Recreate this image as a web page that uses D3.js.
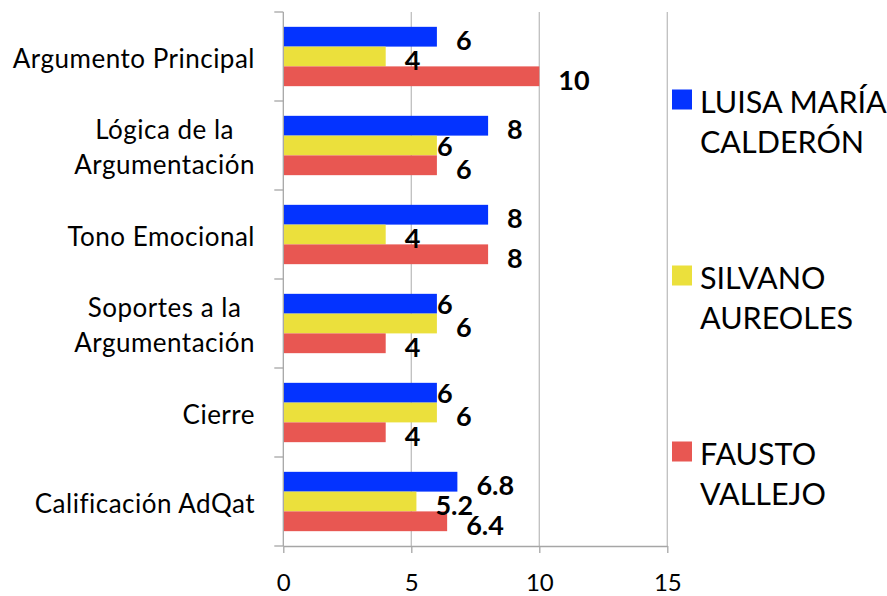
<!DOCTYPE html>
<html>
<head>
<meta charset="utf-8">
<script src="https://cdn.jsdelivr.net/npm/d3@7"></script>
<style>
  html, body { margin: 0; padding: 0; background: #ffffff; }
  svg { display: block; font-family: Lato, "Open Sans", sans-serif; }
</style>
</head>
<body>
<svg id="chart" width="887" height="596"></svg>
<script>
// ---- data ----
const categories = [
  "Argumento Principal",
  "Lógica de la\nArgumentación",
  "Tono Emocional",
  "Soportes a la\nArgumentación",
  "Cierre",
  "Calificación AdQat"
];
const seriesNames = ["LUISA MARÍA\nCALDERÓN", "SILVANO\nAUREOLES", "FAUSTO\nVALLEJO"];
const luisaValues   = [6, 8, 8, 6, 6, 6.8];
const silvanoValues = [4, 6, 4, 6, 6, 5.2];
const faustoValues  = [10, 6, 8, 4, 4, 6.4];
const xTicks = [0, 5, 10, 15];
const seriesColors = ["#0433ff", "#ebe03c", "#e85752"];

const seriesValues = [luisaValues, silvanoValues, faustoValues];

// ---- layout ----
const svg = d3.select("#chart");
const plotLeft = 283.3, plotRight = 667.3, plotTop = 12, plotBottom = 546;

const x = d3.scaleLinear().domain([0, 15]).range([plotLeft, plotRight]);
const y = d3.scaleBand().domain(categories).range([plotTop, plotBottom]).paddingInner(0).paddingOuter(0);
const ySub = d3.scaleBand().domain(d3.range(seriesNames.length)).range([0, y.bandwidth()]).paddingInner(0).paddingOuter(0.75);

// gridlines
svg.append("g").selectAll("line")
  .data(xTicks.filter(t => t > 0))
  .join("line")
  .attr("x1", d => x(d)).attr("x2", d => x(d))
  .attr("y1", plotTop).attr("y2", plotBottom)
  .attr("stroke", "#bfbfbf").attr("stroke-width", 1.3);

// bars
const groups = svg.append("g").selectAll("g")
  .data(categories)
  .join("g")
  .attr("transform", d => `translate(0,${y(d)})`);

groups.each(function(cat, ci) {
  const g = d3.select(this);
  seriesValues.forEach((vals, si) => {
    g.append("rect")
      .attr("x", x(0))
      .attr("y", ySub(si))
      .attr("width", x(vals[ci]) - x(0))
      .attr("height", ySub.bandwidth())
      .attr("fill", seriesColors[si]);
  });
});

// left axis (category boundaries)
const edges = categories.map(c => y(c)).concat([plotBottom]);
svg.append("line")
  .attr("x1", x(0)).attr("x2", x(0))
  .attr("y1", plotTop).attr("y2", plotBottom)
  .attr("stroke", "#a6a6a6").attr("stroke-width", 1.3);
svg.append("g").selectAll("line")
  .data(edges)
  .join("line")
  .attr("x1", x(0) - 9).attr("x2", x(0))
  .attr("y1", d => d).attr("y2", d => d)
  .attr("stroke", "#a6a6a6").attr("stroke-width", 1.3);

// bottom axis
const xAxis = d3.axisBottom(x).tickValues(xTicks).tickSize(7).tickSizeOuter(0).tickPadding(22);
const ax = svg.append("g").attr("transform", `translate(0,${plotBottom})`).call(xAxis);
ax.select(".domain").attr("stroke", "#a6a6a6").attr("stroke-width", 1.3);
ax.selectAll(".tick line").attr("stroke", "#a6a6a6").attr("stroke-width", 1.3);
ax.selectAll(".tick text")
  .attr("fill", "#000")
  .attr("y", 45)
  .attr("dy", null)
  .style("font-family", "Lato, 'Open Sans', sans-serif")
  .style("font-size", "24px");

// category labels
const catLineH = 35.7;
const catLabels = svg.append("g").selectAll("text")
  .data(categories)
  .join("text")
  .attr("font-size", 26)
  .attr("letter-spacing", 0.5)
  .attr("fill", "#000")
  .each(function(d) {
    const lines = d.split("\n");
    const t = d3.select(this);
    const cy = y(d) + y.bandwidth() / 2;
    const first = cy - (lines.length - 1) * catLineH / 2 + 11;
    lines.forEach((ln, i) => {
      t.append("tspan").text(ln).attr("y", first + i * catLineH);
    });
  });
// right-align block, center lines within block
catLabels.each(function() {
  const tsp = d3.select(this).selectAll("tspan");
  const widths = [];
  tsp.each(function() { widths.push(this.getComputedTextLength()); });
  const maxW = d3.max(widths);
  tsp.attr("x", 255 - maxW / 2).attr("text-anchor", "middle");
});

// value labels (label shifted onto bar end when it would collide with the next series' equal label)
groups.each(function(cat, ci) {
  const g = d3.select(this);
  seriesValues.forEach((vals, si) => {
    const next = seriesValues[si + 1];
    const collide = next && next[ci] === vals[ci];
    g.append("text")
      .attr("x", x(vals[ci]) + (collide ? 0 : 19))
      .attr("y", ySub(si) + ySub.bandwidth() / 2 + (collide ? 0 : 3))
      .attr("dominant-baseline", "central")
      .attr("font-size", 27)
      .attr("font-weight", "bold")
      .attr("fill", "#000")
      .text(String(vals[ci]));
  });
});

// legend
const legend = svg.append("g");
seriesNames.forEach((name, i) => {
  const baseY = 113 + i * 176;
  legend.append("rect")
    .attr("x", 672).attr("y", baseY - 23.5)
    .attr("width", 20).attr("height", 20)
    .attr("fill", seriesColors[i]);
  const t = legend.append("text").attr("font-size", 30.5).attr("fill", "#000");
  name.split("\n").forEach((ln, j) => {
    t.append("tspan").attr("x", 700).attr("y", baseY + j * 39.7).text(ln);
  });
});
</script>
</body>
</html>
